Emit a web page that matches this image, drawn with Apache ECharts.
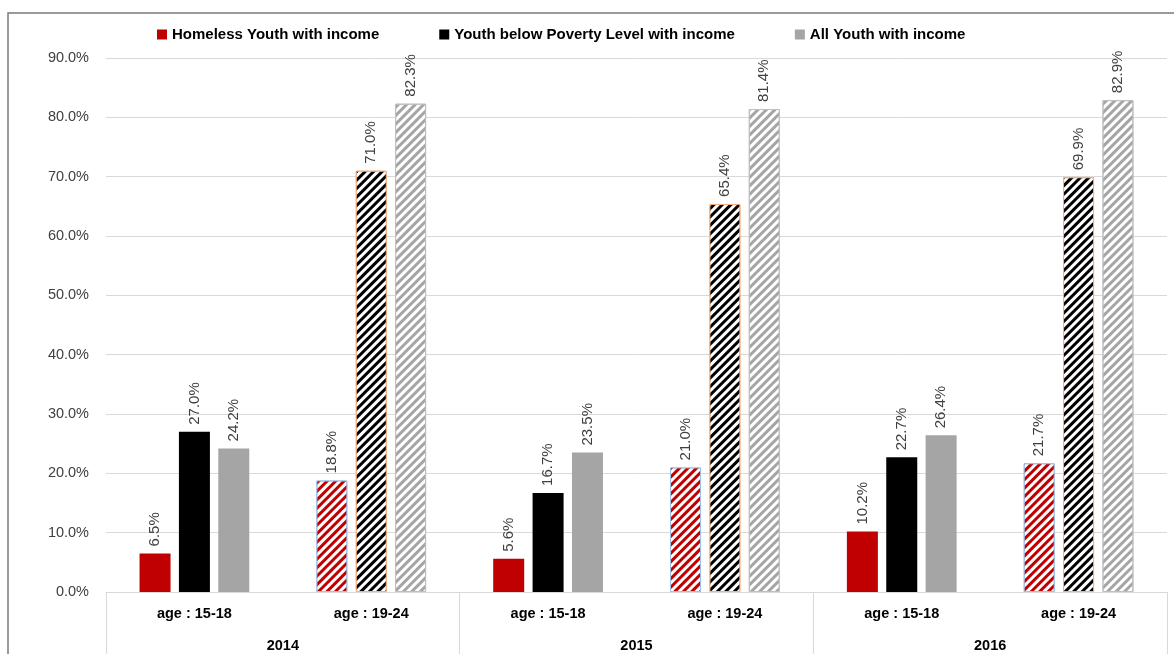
<!DOCTYPE html>
<html><head><meta charset="utf-8">
<script src="https://cdn.jsdelivr.net/npm/echarts@6/dist/echarts.min.js"></script>
<style>html,body{margin:0;padding:0;background:#fff}#c{width:1174px;height:654px}</style>
</head><body><div id="c"></div>
<script>
const ageLabels = ['age : 15-18','age : 19-24','age : 15-18','age : 19-24','age : 15-18','age : 19-24'];
const years = ['2014','2015','2016'];
const seriesNames = ['Homeless Youth with income','Youth below Poverty Level with income','All Youth with income'];
const homeless = [6.5, 18.8, 5.6, 21.0, 10.2, 21.7];
const poverty = [27.0, 71.0, 16.7, 65.4, 22.7, 69.9];
const allYouth = [24.2, 82.3, 23.5, 81.4, 26.4, 82.9];
const yTicks = [0,10,20,30,40,50,60,70,80,90];

const solidColors = ['#c00000','#000000','#a5a5a5'];
const hatchBorders = ['#9dc3e6','#f4b183','#bfbfbf'];

function makeSeries(name, values, i){
  return {
    name: name, type:'bar', xAxisIndex:0, yAxisIndex:0,
    barWidth: 31, barGap: '27%',
    itemStyle:{color: solidColors[i]},
    label:{show:true, position:'top', rotate:90, align:'left', verticalAlign:'middle', distance:7,
      fontFamily:'Liberation Sans', fontSize:15, color:'#404040',
      formatter: p => p.value.toFixed(1)+'%'},
    data: values.map((v,k)=> k%2===1 ? {
      value:v,
      itemStyle:{color:'#ffffff', borderColor: hatchBorders[i], borderWidth:1,
        decal:{symbol:'rect', color: solidColors[i], dashArrayX:[1,0], dashArrayY:[2.2,2.8], rotation: -Math.PI/4, symbolSize:1}}
    } : v)
  };
}

const chart = echarts.init(document.getElementById('c'));
chart.setOption({
  animation:false,
  backgroundColor:'#fff',
  graphic:[{type:'rect', shape:{x:8,y:13,width:1200,height:700}, style:{fill:'none', stroke:'#7a7a7a', lineWidth:1.5}, silent:true}],
  legend:{
    top:22, left:152, itemWidth:10, itemHeight:10, itemGap:60, icon:'rect',
    textStyle:{fontFamily:'Liberation Sans', fontWeight:'bold', fontSize:15, color:'#000'},
    data: seriesNames
  },
  grid:{left:106, right:7, top:58, bottom:62, containLabel:false},
  xAxis:[
    {type:'category', data: ageLabels, position:'bottom',
     axisLine:{show:true, lineStyle:{color:'#d9d9d9'}}, axisTick:{show:false},
     axisLabel:{margin:14, fontFamily:'Liberation Sans', fontWeight:'bold', fontSize:14.5, color:'#000', interval:0}},
    {type:'category', data: years, position:'bottom', boundaryGap:true,
     axisLine:{show:false},
     axisTick:{show:true, length:70, interval:0, lineStyle:{color:'#d9d9d9'}},
     axisLabel:{margin:46, fontFamily:'Liberation Sans', fontWeight:'bold', fontSize:14.5, color:'#000', interval:0}}
  ],
  yAxis:{type:'value', min:yTicks[0], max:yTicks[yTicks.length-1], interval:10,
    axisLine:{show:false}, axisTick:{show:false},
    splitLine:{lineStyle:{color:'#d9d9d9'}},
    axisLabel:{margin:17, fontFamily:'Liberation Sans', fontSize:14.5, color:'#404040', formatter: v => v.toFixed(1)+'%'}},
  series:[
    makeSeries(seriesNames[0], homeless, 0),
    makeSeries(seriesNames[1], poverty, 1),
    makeSeries(seriesNames[2], allYouth, 2)
  ]
});
</script></body></html>
